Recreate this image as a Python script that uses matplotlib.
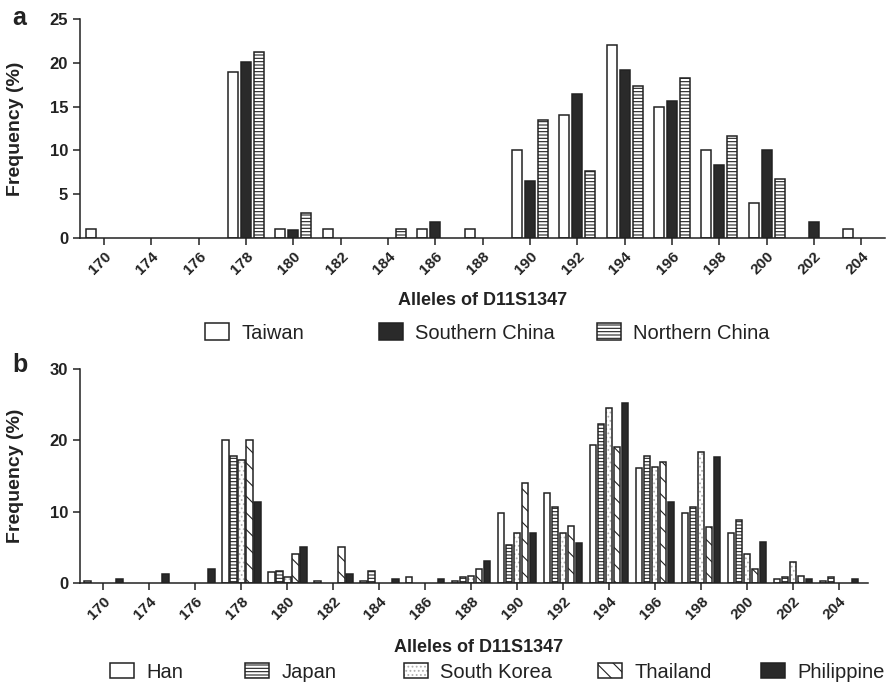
import numpy as np
import matplotlib
matplotlib.use('Agg')
from matplotlib import pyplot as plt
from matplotlib.patches import Patch

plt.rcParams['font.family'] = ['Liberation Sans', 'DejaVu Sans']
plt.rcParams['hatch.linewidth'] = 0.8
plt.rcParams['text.color'] = '#222222'
plt.rcParams['axes.labelcolor'] = '#222222'
plt.rcParams['xtick.color'] = '#222222'
plt.rcParams['ytick.color'] = '#222222'

## allele categories (same for both panels)
alleles = ['170', '174', '176', '178', '180', '182', '184', '186', '188',
           '190', '192', '194', '196', '198', '200', '202', '204']

## panel a
taiwan = [1, 0, 0, 19, 1, 1, 0, 1, 1, 10, 14, 22, 15, 10, 4, 0, 1]
s_china = [0, 0, 0, 20.1, 0.9, 0, 0, 1.8, 0, 6.5, 16.4, 19.2, 15.6, 8.3, 10, 1.8, 0]
n_china = [0, 0, 0, 21.2, 2.9, 0, 1, 0, 0, 13.5, 7.7, 17.4, 18.3, 11.6, 6.7, 0, 0]

## panel b
han = [0.3, 0, 0, 20.1, 1.6, 0.3, 0.3, 0.9, 0.3, 9.8, 12.6, 19.4, 16.1, 9.8, 7.0, 0.6, 0.3]
japan = [0, 0, 0, 17.8, 1.7, 0, 1.7, 0, 0.9, 5.3, 10.7, 22.3, 17.8, 10.6, 8.8, 0.9, 0.9]
s_korea = [0, 0, 0, 17.3, 0.9, 0, 0, 0, 1.0, 7.0, 7.0, 24.5, 16.2, 18.4, 4.1, 3.0, 0]
thailand = [0, 0, 0, 20.0, 4.0, 5.0, 0, 0, 2.0, 14.0, 8.0, 19.0, 17.0, 7.9, 2.0, 1.0, 0]
philippine = [0.6, 1.3, 1.9, 11.4, 5.1, 1.3, 0.6, 0.6, 3.1, 7.0, 5.6, 25.3, 11.4, 17.7, 5.7, 0.6, 0.6]

EDGE = '#222222'
DARK = '#2a2a2a'
W, H = 889, 685

## styles per series
styles = {
    'white': dict(fc='white', hatch=None),
    'black': dict(fc=DARK, hatch=None),
    'hstripe': dict(fc='white', hatch='-----'),
    'dots': dict(fc='white', hatch='....'),
    'diag': dict(fc='white', hatch='\\\\'),
}


def draw_bars(ax, xs, vals, width, style):
    st = styles[style]
    vals = np.asarray(vals, dtype=float)
    keep = vals > 0  # zero bars would leave a stub on the axis line
    xs, vals = xs[keep], vals[keep]
    if style == 'dots':
        ## light grey dots, then a dark outline on top
        ax.bar(xs, vals, width, color='white', edgecolor='#b0b0b0', hatch=st['hatch'], linewidth=0)
        ax.bar(xs, vals, width, fill=False, edgecolor=EDGE, linewidth=1.1)
    else:
        ax.bar(xs, vals, width, color=st['fc'], edgecolor=EDGE, hatch=st['hatch'], linewidth=1.1)


def legend_handle(style):
    st = styles[style]
    if style == 'dots':
        return (Patch(facecolor='white', edgecolor='#b0b0b0', hatch=st['hatch'], linewidth=0),
                Patch(fill=False, edgecolor=EDGE, linewidth=1.1))
    return Patch(facecolor=st['fc'], edgecolor=EDGE, hatch=st['hatch'], linewidth=1.1)


def style_axis(ax, ymax, ystep, xmax):
    ax.set_xlim(-0.51, xmax)
    ax.set_ylim(0, ymax)
    ax.set_yticks(np.arange(0, ymax + 0.1, ystep))
    ax.set_xticks(np.arange(len(alleles)))
    ax.set_xticklabels(alleles, rotation=45, ha='right', rotation_mode='anchor', fontsize=11, fontweight='bold')
    for lab in ax.get_yticklabels():
        lab.set_fontweight('bold')
        lab.set_fontsize(12)
    for s in ['top', 'right']:
        ax.spines[s].set_visible(False)
    for s in ['left', 'bottom']:
        ax.spines[s].set_linewidth(1.1)
        ax.spines[s].set_color(EDGE)
    ax.tick_params(axis='both', direction='out', length=5, width=1.1)
    ax.tick_params(axis='x', pad=3)
    ax.set_ylabel('Frequency (%)', fontsize=14, fontweight='bold')
    ax.set_xlabel('Alleles of D11S1347', fontsize=13, fontweight='bold')


fig = plt.figure(figsize=(W / 100, H / 100), dpi=100)

## ---------------- panel a ----------------
axA = fig.add_axes([80 / W, 1 - 238 / H, 805 / W, 219 / H])
x = np.arange(len(alleles))
slotA, widthA = 0.275, 0.21
seriesA = [(taiwan, 'white', 'Taiwan'), (s_china, 'black', 'Southern China'),
           (n_china, 'hstripe', 'Northern China')]
for i, (vals, st, lab) in enumerate(seriesA):
    draw_bars(axA, x + (i - 1) * slotA, vals, widthA, st)
style_axis(axA, 25, 5, 16.5)
axA.yaxis.set_label_coords(-0.07, 0.5)
axA.xaxis.set_label_coords(0.5, -0.245)

## ---------------- panel b ----------------
axB = fig.add_axes([80 / W, 1 - 583 / H, 788 / W, 214 / H])
slotB, widthB = 0.174, 0.14
seriesB = [(han, 'white', 'Han'), (japan, 'hstripe', 'Japan'), (s_korea, 'dots', 'South Korea'),
           (thailand, 'diag', 'Thailand'), (philippine, 'black', 'Philippine')]
for i, (vals, st, lab) in enumerate(seriesB):
    draw_bars(axB, x + (i - 2) * slotB, vals, widthB, st)
style_axis(axB, 30, 10, 16.63)
axB.yaxis.set_label_coords(-0.071, 0.5)
axB.xaxis.set_label_coords(0.506, -0.26)

## legends, one entry each so the gaps follow the figure
legA_x = [205, 379, 597]
for (vals, st, lab), px in zip(seriesA, legA_x):
    fig.legend([legend_handle(st)], [lab], loc='center left', bbox_to_anchor=(px / W, 1 - 333 / H),
               frameon=False, fontsize=14.5, handlelength=1.2, handleheight=0.85, handletextpad=0.6,
               borderpad=0, borderaxespad=0)

legB_x = [110, 245, 404, 598, 761]
for (vals, st, lab), px in zip(seriesB, legB_x):
    fig.legend([legend_handle(st)], [lab], loc='center left', bbox_to_anchor=(px / W, 1 - 672 / H),
               frameon=False, fontsize=14.5, handlelength=1.2, handleheight=0.75, handletextpad=0.6,
               borderpad=0, borderaxespad=0)

## panel letters
fig.text(12 / W, 1 - 6 / H, 'a', fontsize=18, fontweight='bold', va='top')
fig.text(12 / W, 1 - 353 / H, 'b', fontsize=18, fontweight='bold', va='top')

fig.savefig('out.png', dpi=100)
